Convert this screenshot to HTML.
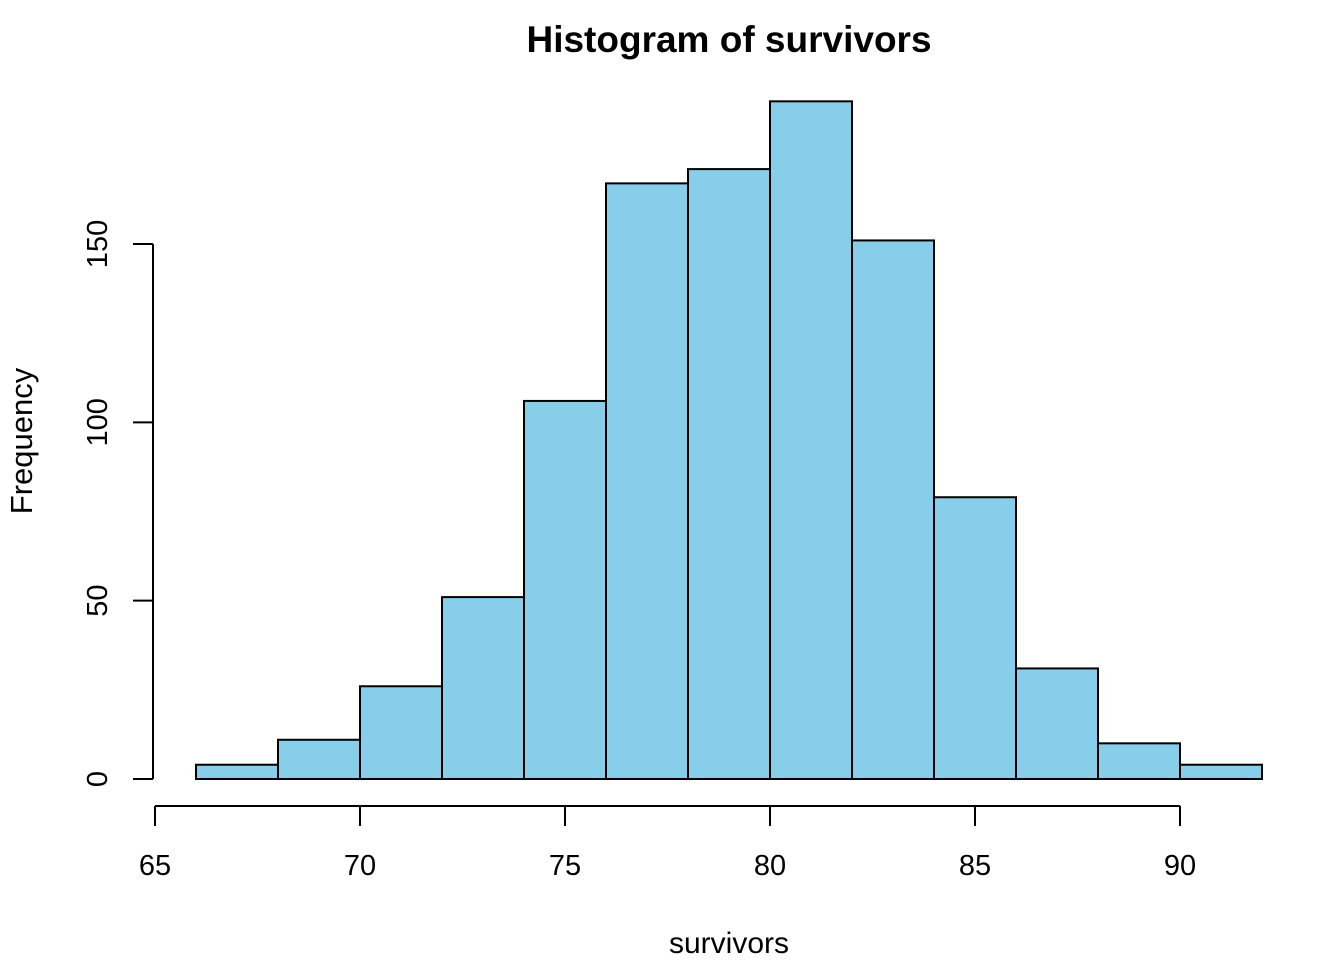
<!DOCTYPE html>
<html><head><meta charset="utf-8"><style>
body{margin:0;background:#fff}
text{font-family:"Liberation Sans",Arial,sans-serif;fill:#000}
</style></head><body>
<svg id="chart" width="1344" height="960" xmlns="http://www.w3.org/2000/svg">
<text x="729" y="52" font-size="37" font-weight="bold" text-anchor="middle">Histogram of survivors</text>
<text x="729" y="953" font-size="30" text-anchor="middle">survivors</text>
<text transform="translate(32,441) rotate(-90)" font-size="31" text-anchor="middle">Frequency</text>
<g id="bars"></g><g id="axes"></g>
</svg>
<script>
const binStarts=[66,68,70,72,74,76,78,80,82,84,86,88,90];
const binWidth=2;
const counts=[4,11,26,51,106,167,171,190,151,79,31,10,4];
const xTicks=[65,70,75,80,85,90];
const yTicks=[0,50,100,150];
const NS="http://www.w3.org/2000/svg";
const sx=v=>155+(v-65)*41;
const sy=v=>779-v*(535/150);
const bars=document.getElementById('bars'),axes=document.getElementById('axes');
function mk(tag,attrs,parent){const e=document.createElementNS(NS,tag);for(const k in attrs)e.setAttribute(k,attrs[k]);parent.appendChild(e);return e;}
binStarts.forEach((b,i)=>{
 const r=mk('rect',{x:sx(b),y:sy(counts[i]),width:sx(b+binWidth)-sx(b),height:sy(0)-sy(counts[i]),fill:'#87ceeb',stroke:'#000','stroke-width':2},bars);
 
 
});
const xl=mk('line',{x1:sx(xTicks[0]),x2:sx(xTicks[xTicks.length-1]),y1:806,y2:806,stroke:'#000','stroke-width':2},axes);


xTicks.forEach(t=>{
 mk('line',{x1:sx(t),x2:sx(t),y1:806,y2:826,stroke:'#000','stroke-width':2},axes);
 const tx=mk('text',{x:sx(t),y:875,'font-size':29,'text-anchor':'middle'},axes);tx.textContent=t;
 
 
});
const yl=mk('line',{x1:153,x2:153,y1:sy(yTicks[yTicks.length-1]),y2:sy(0),stroke:'#000','stroke-width':2},axes);


yTicks.forEach(t=>{
 mk('line',{x1:133,x2:153,y1:sy(t),y2:sy(t),stroke:'#000','stroke-width':2},axes);
 const tx=mk('text',{transform:`translate(107,${sy(t)}) rotate(-90)`,'font-size':29,'text-anchor':'middle'},axes);tx.textContent=t;
 
 
});
</script>
</body></html>
